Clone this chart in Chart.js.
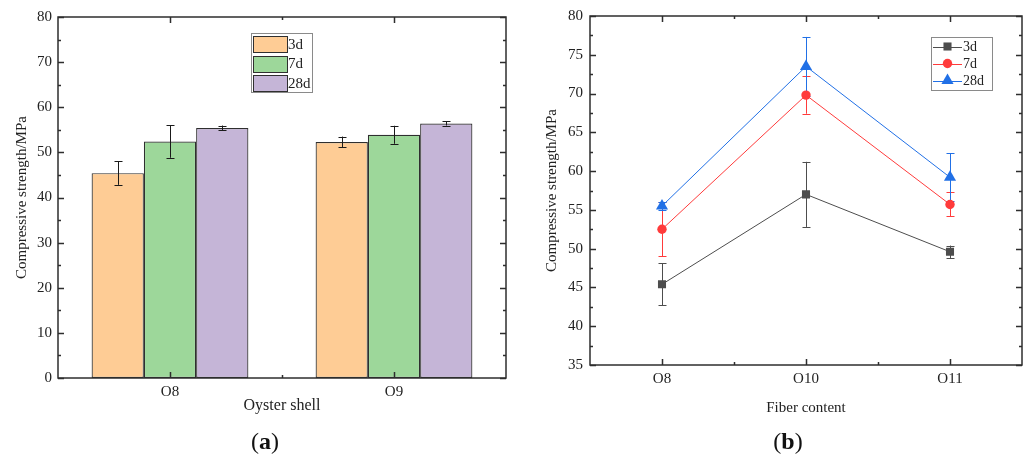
<!DOCTYPE html>
<html>
<head>
<meta charset="utf-8">
<script src="https://cdn.jsdelivr.net/npm/chart.js@4.4.1/dist/chart.umd.min.js"></script>
<style>
  html, body { margin: 0; padding: 0; background: #fff; }
  #wrap { position: relative; width: 1029px; height: 454px; background: #fff; overflow: hidden; }
  .pane { position: absolute; top: 0; height: 454px; }
  .lab { position: absolute; transform: translate(-50%, -50%); font-family: 'Liberation Serif', serif; font-size: 24px; color: #111; white-space: nowrap; }
</style>
</head>
<body>
<div id="wrap">
  <div class="pane" style="left:0;width:515px"><canvas id="ca" width="515" height="454"></canvas></div>
  <div class="pane" style="left:515px;width:514px"><canvas id="cb" width="514" height="454"></canvas></div>
  <div class="lab" style="left:265px;top:441px">(<b>a</b>)</div>
  <div class="lab" style="left:788px;top:441px">(<b>b</b>)</div>
</div>
<script>
// ---------- DATA ----------
const seriesLabels = ['3d', '7d', '28d'];

// (a) Oyster shell, bar chart
const categoriesA = ['O8', 'O9'];
const a3d = [45.4, 52.3];
const a3dErr = [2.6, 1.2];
const a7d = [52.4, 53.9];
const a7dErr = [3.6, 2.0];
const a28d = [55.4, 56.4];
const a28dErr = [0.55, 0.45];
const yTicksA = { min: 0, max: 80, step: 10 };

// (b) Fiber content, line chart
const categoriesB = ['O8', 'O10', 'O11'];
const b3d = [45.4, 57.0, 49.6];
const b3dErr = [2.7, 4.2, 0.8];
const b7d = [52.5, 69.8, 55.7];
const b7dErr = [3.5, 2.4, 1.55];
const b28d = [55.5, 73.5, 59.2];
const b28dErr = [0.5, 3.8, 3.1];
const yTicksB = { min: 35, max: 80, step: 5 };

// ---------- STYLE ----------
const SERIF = "'Liberation Serif', 'Times New Roman', serif";
const barColors = ['#FECC95', '#9DD79A', '#C5B5D7'];
const lineColors = ['#4D4D4D', '#FF3B3B', '#2170E6'];
const pointStyles = ['rect', 'circle', 'triangle'];
const pointRadii = [5.7, 4.7, 7];
const axisColor = '#2e2e2e';
const textColor = '#222';

// ---------- PLUGINS ----------
const frameTicks = {
  id: 'frameTicks',
  afterDraw(chart, args, o) {
    const { ctx, chartArea: ca } = chart;
    const xs = chart.scales.x, ys = chart.scales.y;
    ctx.save();
    ctx.strokeStyle = o.color;
    ctx.lineWidth = o.width;
    ctx.beginPath();
    const yv = ys.ticks.map(t => t.value);
    yv.forEach(v => {
      const py = Math.round(ys.getPixelForValue(v)) + 0.5;
      ctx.moveTo(ca.left, py); ctx.lineTo(ca.left + o.major, py);
      ctx.moveTo(ca.right, py); ctx.lineTo(ca.right - o.major, py);
    });
    for (let i = 0; i < yv.length - 1; i++) {
      const py = Math.round(ys.getPixelForValue((yv[i] + yv[i + 1]) / 2)) + 0.5;
      ctx.moveTo(ca.left, py); ctx.lineTo(ca.left + o.minor, py);
      ctx.moveTo(ca.right, py); ctx.lineTo(ca.right - o.minor, py);
    }
    const n = xs.ticks.length;
    for (let i = 0; i < n; i++) {
      const px = Math.round(xs.getPixelForTick(i)) + 0.5;
      ctx.moveTo(px, ca.bottom); ctx.lineTo(px, ca.bottom - o.major);
      ctx.moveTo(px, ca.top); ctx.lineTo(px, ca.top + o.major);
    }
    for (let i = 0; i < n - 1; i++) {
      const px = Math.round((xs.getPixelForTick(i) + xs.getPixelForTick(i + 1)) / 2) + 0.5;
      ctx.moveTo(px, ca.bottom); ctx.lineTo(px, ca.bottom - o.minor);
      ctx.moveTo(px, ca.top); ctx.lineTo(px, ca.top + o.minor);
    }
    ctx.stroke();
    ctx.strokeRect(ca.left, ca.top, ca.right - ca.left, ca.bottom - ca.top);
    ctx.restore();
  }
};

function drawErrors(chart, o) {
  const ctx = chart.ctx, ys = chart.scales.y;
  ctx.save();
  ctx.lineWidth = o.width;
  chart.data.datasets.forEach((ds, i) => {
    const meta = chart.getDatasetMeta(i);
    const errs = o.errors[i];
    ctx.strokeStyle = o.color || ds.borderColor;
    ctx.beginPath();
    meta.data.forEach((el, j) => {
      const v = ds.data[j], e = errs[j];
      const x = Math.round(el.x) + 0.5;
      const yt = ys.getPixelForValue(v + e), yb = ys.getPixelForValue(v - e);
      ctx.moveTo(x, yt); ctx.lineTo(x, yb);
      ctx.moveTo(x - o.cap, Math.round(yt) + 0.5); ctx.lineTo(x + o.cap, Math.round(yt) + 0.5);
      ctx.moveTo(x - o.cap, Math.round(yb) + 0.5); ctx.lineTo(x + o.cap, Math.round(yb) + 0.5);
    });
    ctx.stroke();
  });
  ctx.restore();
}
const errorBars = {
  id: 'errorBars',
  beforeDatasetsDraw(chart, args, o) { if (o.layer === 'below') drawErrors(chart, o); },
  afterDatasetsDraw(chart, args, o) { if (o.layer !== 'below') drawErrors(chart, o); }
};

function drawMarker(ctx, style, r, x, y) {
  ctx.beginPath();
  if (style === 'rect') {
    const s = r / Math.SQRT2;
    ctx.rect(x - s, y - s, 2 * s, 2 * s);
  } else if (style === 'circle') {
    ctx.arc(x, y, r, 0, Math.PI * 2);
  } else {
    const w = r * Math.sqrt(3) / 2;
    ctx.moveTo(x, y - r);
    ctx.lineTo(x + w, y + r / 2);
    ctx.lineTo(x - w, y + r / 2);
    ctx.closePath();
  }
  ctx.fill();
}

const boxLegend = {
  id: 'boxLegend',
  afterDraw(chart, args, o) {
    const ctx = chart.ctx;
    ctx.save();
    ctx.fillStyle = '#fff';
    ctx.fillRect(o.x, o.y, o.w, o.h);
    ctx.strokeStyle = o.borderColor;
    ctx.lineWidth = 1;
    ctx.strokeRect(o.x + 0.5, o.y + 0.5, o.w, o.h);
    ctx.font = o.font;
    ctx.textBaseline = 'middle';
    ctx.textAlign = 'left';
    chart.data.datasets.forEach((ds, i) => {
      const cy = o.y + o.firstRow + i * o.rowGap;
      if (o.kind === 'bar') {
        ctx.fillStyle = ds.backgroundColor;
        ctx.fillRect(o.swX, Math.round(cy - o.swH / 2), o.swW, o.swH);
        ctx.strokeStyle = ds.borderColor;
        ctx.strokeRect(o.swX + 0.5, Math.round(cy - o.swH / 2) + 0.5, o.swW, o.swH);
      } else {
        ctx.strokeStyle = ds.borderColor;
        ctx.lineWidth = 1;
        ctx.beginPath();
        ctx.moveTo(o.swX, Math.round(cy) + 0.5);
        ctx.lineTo(o.swX + o.swW, Math.round(cy) + 0.5);
        ctx.stroke();
        ctx.fillStyle = ds.pointBackgroundColor;
        drawMarker(ctx, ds.pointStyle, ds.pointRadius, o.swX + o.swW / 2, cy);
      }
      ctx.fillStyle = o.textColor;
      ctx.fillText(ds.label, o.textX, cy + 1);
    });
    ctx.restore();
  }
};

// ---------- CHART (a) ----------
new Chart(document.getElementById('ca'), {
  type: 'bar',
  data: {
    labels: categoriesA,
    datasets: [a3d, a7d, a28d].map((d, i) => ({
      label: seriesLabels[i],
      data: d,
      backgroundColor: barColors[i],
      borderColor: '#2f2f2f',
      borderWidth: 1.2,
      borderSkipped: false,
      categoryPercentage: 0.7,
      barPercentage: 1.0
    }))
  },
  options: {
    responsive: false,
    animation: false,
    events: [],
    layout: { padding: { left: 0, top: 17, right: 9, bottom: 36 } },
    plugins: {
      legend: { display: false },
      tooltip: { enabled: false },
      frameTicks: { color: axisColor, width: 1.5, major: 6, minor: 3 },
      errorBars: { errors: [a3dErr, a7dErr, a28dErr], color: '#1a1a1a', width: 1, cap: 4, layer: 'above' },
      boxLegend: {
        kind: 'bar', x: 251, y: 33, w: 61, h: 59, firstRow: 11, rowGap: 19.5,
        swX: 253, swW: 34, swH: 16, textX: 288,
        font: "15px " + SERIF, textColor: textColor, borderColor: '#8a8a8a'
      }
    },
    scales: {
      x: {
        type: 'category',
        offset: true,
        grid: { display: false, drawTicks: false },
        border: { display: false },
        ticks: { font: { family: SERIF, size: 15 }, color: textColor, padding: 5 },
        title: { display: true, text: 'Oyster shell', font: { family: SERIF, size: 16 }, color: textColor, padding: { top: 0, bottom: 3 } },
        afterFit(s) { s.height = 40; }
      },
      y: {
        min: yTicksA.min, max: yTicksA.max,
        grid: { display: false, drawTicks: false },
        border: { display: false },
        ticks: { stepSize: yTicksA.step, font: { family: SERIF, size: 15 }, color: textColor, padding: 6 },
        title: { display: true, text: 'Compressive strength/MPa', font: { family: SERIF, size: 15 }, color: textColor, padding: { top: 13, bottom: 0 } },
        afterFit(s) { s.width = 58; }
      }
    }
  },
  plugins: [errorBars, frameTicks, boxLegend]
});

// ---------- CHART (b) ----------
new Chart(document.getElementById('cb'), {
  type: 'line',
  data: {
    labels: categoriesB,
    datasets: [b3d, b7d, b28d].map((d, i) => ({
      label: seriesLabels[i],
      data: d,
      borderColor: lineColors[i],
      backgroundColor: lineColors[i],
      borderWidth: 1,
      tension: 0,
      fill: false,
      pointStyle: pointStyles[i],
      pointRadius: pointRadii[i],
      pointBackgroundColor: lineColors[i],
      pointBorderColor: lineColors[i],
      pointBorderWidth: 0
    }))
  },
  options: {
    responsive: false,
    animation: false,
    events: [],
    layout: { padding: { left: 0, top: 15, right: 6, bottom: 29 } },
    plugins: {
      legend: { display: false },
      tooltip: { enabled: false },
      frameTicks: { color: axisColor, width: 1.5, major: 6, minor: 3 },
      errorBars: { errors: [b3dErr, b7dErr, b28dErr], color: null, width: 1, cap: 4, layer: 'below' },
      boxLegend: {
        kind: 'line', x: 416, y: 37, w: 61, h: 53, firstRow: 9.5, rowGap: 17,
        swX: 418, swW: 29, textX: 448,
        font: "14px " + SERIF, textColor: textColor, borderColor: '#8a8a8a'
      }
    },
    scales: {
      x: {
        type: 'category',
        offset: true,
        grid: { display: false, drawTicks: false },
        border: { display: false },
        ticks: { font: { family: SERIF, size: 15 }, color: textColor, padding: 5 },
        title: { display: true, text: 'Fiber content', font: { family: SERIF, size: 15 }, color: textColor, padding: { top: 0, bottom: 8 } },
        afterFit(s) { s.height = 60; }
      },
      y: {
        min: yTicksB.min, max: yTicksB.max,
        grid: { display: false, drawTicks: false },
        border: { display: false },
        ticks: { stepSize: yTicksB.step, font: { family: SERIF, size: 15 }, color: textColor, padding: 7 },
        title: { display: true, text: 'Compressive strength/MPa', font: { family: SERIF, size: 15 }, color: textColor, padding: { top: 28, bottom: 0 } },
        afterFit(s) { s.width = 75; }
      }
    }
  },
  plugins: [errorBars, frameTicks, boxLegend]
});
</script>
</body>
</html>
